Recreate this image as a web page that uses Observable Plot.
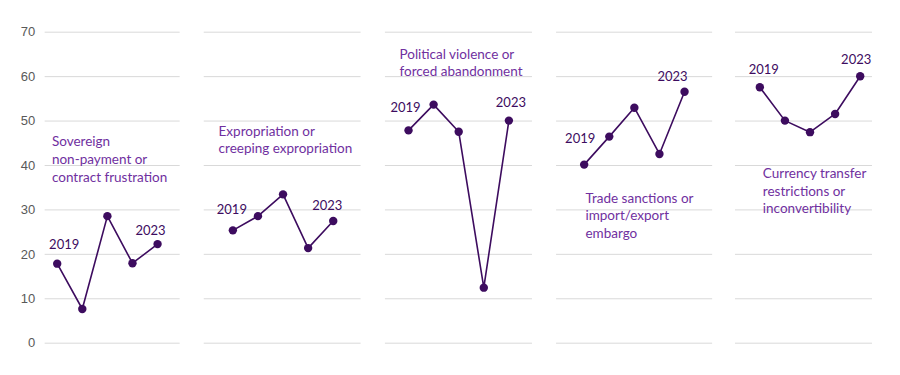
<!DOCTYPE html>
<html>
<head>
<meta charset="utf-8">
<script src="https://cdn.jsdelivr.net/npm/d3@7"></script>
<script src="https://cdn.jsdelivr.net/npm/@observablehq/plot@0.6"></script>
<style>
  html, body { margin: 0; padding: 0; background: #fff; }
  #chart svg { display: block; }
</style>
</head>
<body>
<div id="chart"></div>
<script>
// ---- data ----
const years = [2019, 2020, 2021, 2022, 2023];
const panelTitles = [
  "Sovereign\nnon-payment or\ncontract frustration",
  "Expropriation or\ncreeping expropriation",
  "Political violence or\nforced abandonment",
  "Trade sanctions or\nimport/export\nembargo",
  "Currency transfer\nrestrictions or\ninconvertibility"
];
const sovereign     = [17.9, 7.7, 28.6, 18.0, 22.3];
const expropriation = [25.4, 28.6, 33.5, 21.4, 27.5];
const political     = [47.9, 53.7, 47.6, 12.5, 50.1];
const trade         = [40.2, 46.5, 53.0, 42.6, 56.6];
const currency      = [57.6, 50.1, 47.5, 51.6, 60.1];
const yTicks = [0, 10, 20, 30, 40, 50, 60, 70];

// ---- layout (annotation placement, in scale units / pixel offsets) ----
const SLOTS = 7; // each panel occupies 7 category slots
const gridExtent = [[-0.48, 4.90], [-1.14, 5.11], [-0.92, 4.94], [-1.10, 5.12], [-0.97, 4.49]];
const titleAnchor = [[-0.21, 45.4], [-0.57, 47.8], [-0.36, 65.1], [0.05, 32.7], [0.12, 38.3]];
const firstLabelOffset = [[7, -19], [-1, -21], [-3, -23], [-4, -26], [4, -17]];
const lastLabelOffset  = [[-7, -13], [-6, -15], [2, -18], [-12, -15], [-4, -16]];

const series = [sovereign, expropriation, political, trade, currency];
const rows = series.flatMap((vals, p) =>
  vals.map((v, j) => ({panel: p, year: years[j], slot: p * SLOTS + j, value: v}))
);
const grid = gridExtent.flatMap(([a, b], p) =>
  yTicks.map(t => ({panel: p, y: t, x1: p * SLOTS + a, x2: p * SLOTS + b}))
);
const titles = panelTitles.map((t, p) => ({
  text: t, x: p * SLOTS + titleAnchor[p][0], y: titleAnchor[p][1]
}));
const firstPts = rows.filter(d => d.year === years[0]);
const lastPts = rows.filter(d => d.year === years[years.length - 1]);

const lineColor = "#3D0C5F";
const titleColor = "#7030A0";
const font = "Lato, 'Open Sans', sans-serif";

const marks = [
  Plot.ruleY(grid, {y: "y", x1: "x1", x2: "x2", stroke: "#D9D9D9", strokeWidth: 1}),
  Plot.text(yTicks, {
    x: gridExtent[0][0], y: d => d, text: d => String(d),
    textAnchor: "end", dx: -10, fill: "#595959", fontSize: 13,
    fontFamily: "'Liberation Sans', Arial, sans-serif"
  }),
  Plot.line(rows, {x: "slot", y: "value", z: "panel", stroke: lineColor, strokeWidth: 1.6}),
  Plot.dot(rows, {x: "slot", y: "value", r: 4.2, fill: lineColor, stroke: "none"}),
  Plot.text(titles, {
    x: "x", y: "y", text: "text", textAnchor: "start", lineAnchor: "top",
    dy: -7.5, lineHeight: 1.3, fill: titleColor, fontSize: 13.5, fontFamily: font
  })
];
firstPts.forEach((d, i) => marks.push(Plot.text([d], {
  x: "slot", y: "value", text: d => String(d.year), dx: firstLabelOffset[i][0], dy: firstLabelOffset[i][1],
  fill: lineColor, fontSize: 13, fontFamily: font
})));
lastPts.forEach((d, i) => marks.push(Plot.text([d], {
  x: "slot", y: "value", text: d => String(d.year), dx: lastLabelOffset[i][0], dy: lastLabelOffset[i][1],
  fill: lineColor, fontSize: 13, fontFamily: font
})));

const chart = Plot.plot({
  width: 900,
  height: 375,
  margin: 0,
  x: {type: "linear", domain: [0, 4 * SLOTS + 4], range: [56.7, 859.7], axis: null},
  y: {type: "linear", domain: [0, 70], range: [342.7, 31.7], axis: null},
  style: {background: "#fff", fontFamily: font},
  marks
});
document.getElementById("chart").appendChild(chart);
</script>
</body>
</html>
